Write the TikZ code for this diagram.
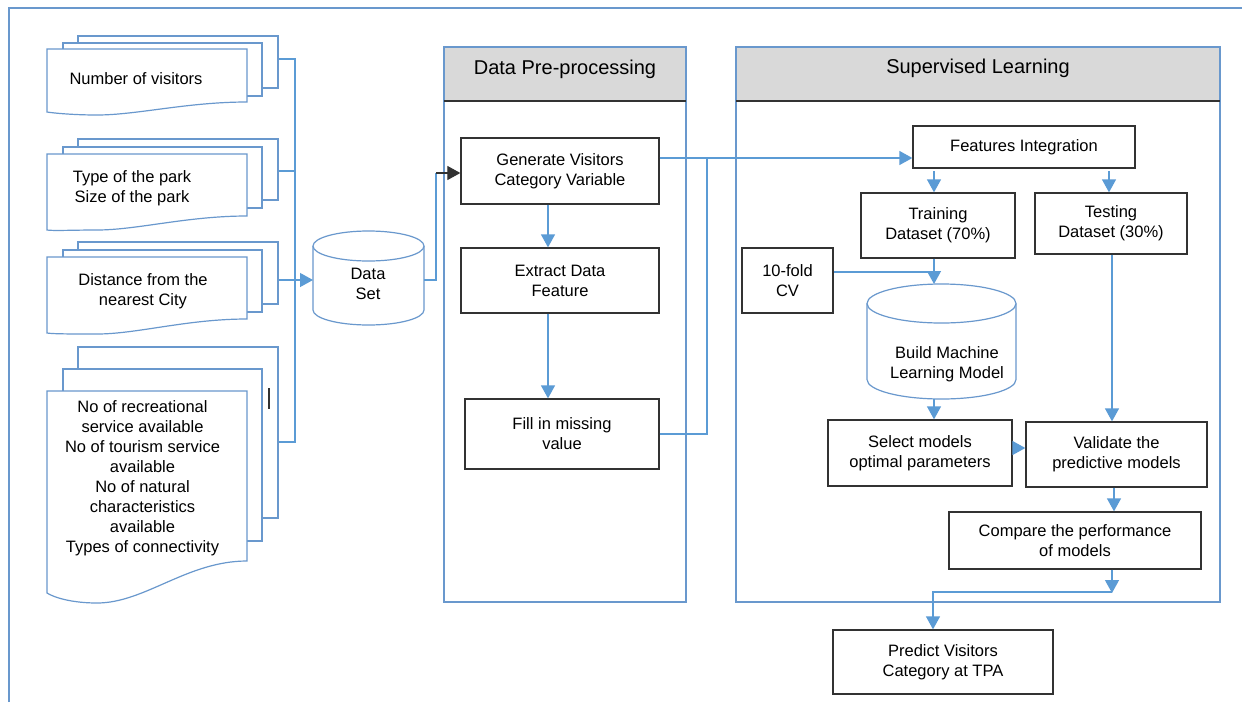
\documentclass[tikz,border=0pt]{standalone}
\usepackage{fontspec}
\setmainfont{Liberation Sans}
\usetikzlibrary{arrows.meta}
\definecolor{lineblue}{RGB}{91,155,213}
\definecolor{docblue}{RGB}{105,152,205}
\definecolor{boxgray}{RGB}{50,50,50}
\definecolor{headgray}{RGB}{217,217,217}
\begin{document}
\begin{tikzpicture}[x=1pt,y=-1pt,
  bodyf/.style={font=\fontsize{16.5}{20}\selectfont},
  ln/.style={draw=lineblue, line width=1.3pt},
  arr/.style={ln, -{Triangle[length=13pt,width=14pt]}},
  docln/.style={draw=docblue, line width=1.2pt, fill=white},
  sheet/.style={docln, rectangle, inner sep=0pt},
  panel/.style={draw=docblue, line width=1.3pt},
  box/.style={draw=boxgray, line width=1.3pt, fill=white, rectangle, inner sep=0pt, align=center, bodyf},
  txt/.style={align=center, bodyf, inner sep=0pt},
  headtxt/.style={font=\fontsize{20}{24}\selectfont, inner sep=0pt}
]
\useasboundingbox (0,0) rectangle (1242,702);
\fill[white] (0,0) rectangle (1242,702);
% outer frame
\draw[panel] (9,702) -- (9,8) -- (1242,8);

% ---------- documents ----------
% doc 1
\node[sheet, minimum width=200pt, minimum height=52pt] (d1b) at (178,62) {};
\node[sheet, minimum width=199pt, minimum height=53pt] (d1m) at (162.5,69.5) {};
\draw[docln] (47,49) -- (247,49) -- (247,102) .. controls (187,102) and (137,115) .. (97,115) .. controls (73,115) and (53,113) .. (47,112) -- cycle;
\node[txt] (d1t) at (136,79) {Number of visitors};
% doc 2
\node[sheet, minimum width=200pt, minimum height=61pt] (d2b) at (178,169.5) {};
\node[sheet, minimum width=199pt, minimum height=61pt] (d2m) at (162.5,177.5) {};
\draw[docln] (47,154) -- (247,154) -- (247,216) .. controls (187,216) and (137,230) .. (97,230) .. controls (73,230) and (53,231) .. (47,230) -- cycle;
\node[txt] (d2t) at (132,188) {Type of the park\\Size of the park};
% doc 3
\node[sheet, minimum width=200pt, minimum height=62pt] (d3b) at (178,273) {};
\node[sheet, minimum width=199pt, minimum height=62pt] (d3m) at (162.5,281) {};
\draw[docln] (47,257) -- (247,257) -- (247,319) .. controls (187,319) and (137,334) .. (97,334) .. controls (73,334) and (53,334) .. (47,333) -- cycle;
\node[txt] (d3t) at (143,291) {Distance from the\\nearest City};
% doc 4
\node[sheet, minimum width=200pt, minimum height=171pt] (d4b) at (178,432.5) {};
\node[sheet, minimum width=199pt, minimum height=172pt] (d4m) at (162.5,455) {};
\draw[docln] (47,391) -- (247,391) -- (247,561) .. controls (187,561) and (145,603) .. (97,603) .. controls (73,603) and (55,598) .. (47,593) -- cycle;
\node[txt] (d4t) at (142.5,478) {No of recreational\\service available\\No of tourism service\\available\\No of natural\\characteristics\\available\\Types of connectivity};
\draw[boxgray, line width=1.5pt] (269,388) -- (269,409);

% ---------- data set cylinder ----------
\fill[white] (313,246) rectangle (424,310);
\draw[docln] (313,246) -- (313,310) arc[start angle=180, end angle=360, x radius=55.5pt, y radius=15pt] -- (424,246);
\draw[docln] (368.5,246) ellipse[x radius=55.5pt, y radius=15pt];
\node[txt] (ds) at (368,284) {Data\\Set};
\coordinate (dsW) at (313,280);
\coordinate (dsE) at (424,280);

% bus from documents
\coordinate (c1) at (295,59);
\coordinate (c2) at (295,171);
\coordinate (c4) at (295,442);
\draw[ln] (d1b.east|-c1) -- (c1) -- (c4) -- (d4b.east|-c4);
\draw[ln] (d2b.east|-c2) -- (c2);
\draw[arr] (d3b.east|-dsW) -- (dsW);

% ---------- panels ----------
\fill[headgray] (444,47) rectangle (686,101);
\draw[panel] (444,47) rectangle (686,602);
\draw[boxgray, line width=1.3pt] (444,101) -- (686,101);
\node[headtxt] (pph) at (565,69) {Data Pre-processing};

\fill[headgray] (736,47) rectangle (1220,101);
\draw[panel] (736,47) rectangle (1220,602);
\draw[boxgray, line width=1.3pt] (736,101) -- (1220,101);
\node[headtxt] (slh) at (978,68) {Supervised Learning};

% ---------- pre-processing boxes ----------
\node[box, minimum width=198pt, minimum height=66pt] (gen) at (560,171) {Generate Visitors\\Category Variable};
\node[box, minimum width=198pt, minimum height=65pt] (ext) at (560,280.5) {Extract Data\\Feature};
\node[box, minimum width=194pt, minimum height=70pt] (fil) at (562,434) {Fill in missing\\value};

% ---------- supervised boxes ----------
\node[box, minimum width=222pt, minimum height=42pt] (fi) at (1024,147) {Features Integration};
\node[box, minimum width=154pt, minimum height=65pt] (train) at (938,225.5) {Training\\Dataset (70\%)};
\node[box, minimum width=152pt, minimum height=61pt] (test) at (1111,223.5) {Testing\\Dataset (30\%)};
\node[box, minimum width=91pt, minimum height=65pt] (cv) at (787.5,280.5) {10-fold\\CV};
\node[box, minimum width=184pt, minimum height=66pt] (sel) at (920,453) {Select models\\optimal parameters};
\node[box, minimum width=181pt, minimum height=65pt] (val) at (1116.5,454.5) {Validate the\\predictive models};
\node[box, minimum width=252pt, minimum height=57pt] (cmp) at (1075,540.5) {Compare the performance\\of models};
\node[box, minimum width=220pt, minimum height=64pt] (pred) at (943,662) {Predict Visitors\\Category at TPA};

% build ML cylinder
\fill[white] (867,303.5) rectangle (1016,379.5);
\draw[docln] (867,303.5) -- (867,379.5) arc[start angle=180, end angle=360, x radius=74.5pt, y radius=19.5pt] -- (1016,303.5);
\draw[docln] (941.5,303.5) ellipse[x radius=74.5pt, y radius=19.5pt];
\node[txt] (ml) at (947,364) {Build Machine\\Learning Model};
\coordinate (mlN) at (934,284);
\coordinate (mlS) at (934,399);

% ---------- connectors ----------
\coordinate (b1) at (436,173);
\draw[ln] (dsE) -- (dsE-|b1) -- (b1);
\draw[boxgray, line width=1.2pt, -{Triangle[length=13pt,width=14pt]}] (b1) -- (gen.west|-b1);

\coordinate (gx) at (548,0);
\draw[arr] (gen.south-|gx) -- (ext.north-|gx);
\draw[arr] (ext.south-|gx) -- (fil.north-|gx);

\coordinate (j1) at (707,158);
\draw[arr] (gen.east|-j1) -- (j1) -- (fi.west|-j1);
\draw[ln] (fil.east) -- (j1|-fil.east) -- (j1);

\coordinate (tx) at (934,171);
\draw[arr] (tx) -- (train.north-|tx);
\coordinate (sx) at (1109,171);
\draw[arr] (sx) -- (test.north-|sx);

\coordinate (j2) at (934,272);
\draw[ln] (cv.east|-j2) -- (j2);
\draw[arr] (train.south-|tx) -- (mlN);
\draw[arr] (mlS) -- (sel.north-|mlS);

\coordinate (vx) at (1112,0);
\draw[arr] (test.south-|vx) -- (val.north-|vx);
\coordinate (hy) at (0,448);
\draw[arr] (sel.east|-hy) -- (val.west|-hy);
\coordinate (cx) at (1114,0);
\draw[arr] (val.south-|cx) -- (cmp.north-|cx);

\coordinate (j3) at (1112,593);
\coordinate (j4) at (933,592);
\draw[arr] (cmp.south-|j3) -- (j3);
\draw[arr] (j3|-j4) -- (j4) -- (pred.north-|j4);
\end{tikzpicture}
\end{document}
